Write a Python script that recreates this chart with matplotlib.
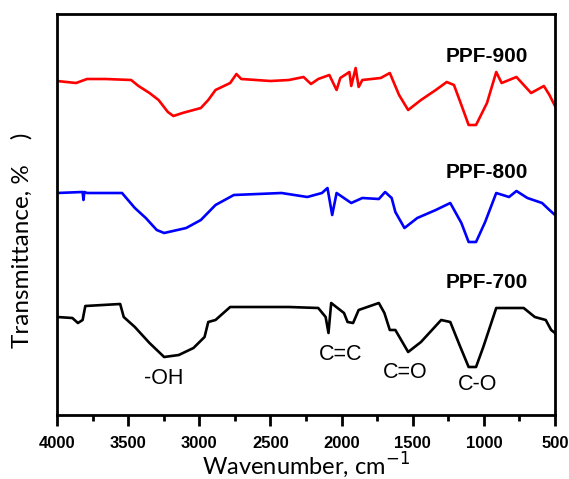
import numpy as np
import matplotlib.pyplot as plt

# wavenumber (cm-1) and transmittance (arbitrary offset units)
wn900 = [4000, 3866, 3789, 3660, 3479, 3427, 3350, 3286, 3221, 3182, 3118, 2989, 2937, 2886,
         2783, 2739, 2705, 2499, 2370, 2267, 2215, 2164, 2086, 2035, 2009, 1945, 1932, 1901,
         1880, 1854, 1725, 1661, 1596, 1532, 1442, 1338, 1261, 1210, 1158, 1107, 1055, 978,
         913, 875, 771, 668, 578, 539, 500]
t900 = [81, 83, 79, 79, 80, 86, 93, 100, 112, 116, 113, 108, 100, 90,
        83, 74, 79, 81, 80, 77, 84, 79, 75, 90, 78, 72, 86, 68,
        87, 80, 78, 73, 95, 110, 100, 90, 82, 85, 105, 125, 125, 103,
        72, 83, 77, 93, 86, 95, 106]

wn800 = [4000, 3820, 3814, 3808, 3789, 3543, 3453, 3376, 3299, 3247, 3092, 2989, 2886, 2757,
         2422, 2241, 2138, 2099, 2066, 2035, 1932, 1854, 1738, 1694, 1648, 1622, 1558, 1468,
         1338, 1236, 1158, 1107, 1055, 991, 913, 823, 771, 694, 591, 539, 500]
t800 = [193, 192, 200, 192, 193, 193, 208, 218, 230, 233, 228, 220, 205, 195,
        193, 197, 193, 188, 215, 193, 203, 198, 199, 192, 198, 212, 228, 218,
        210, 203, 223, 242, 242, 222, 193, 197, 191, 198, 203, 210, 215]

wn700 = [4000, 3892, 3853, 3820, 3801, 3556, 3531, 3453, 3350, 3247, 3144, 3041, 2963, 2937,
         2886, 2783, 2370, 2164, 2112, 2092, 2073, 1983, 1958, 1919, 1880, 1738, 1699, 1661,
         1622, 1532, 1442, 1300, 1236, 1171, 1107, 1055, 1004, 913, 720, 642, 565, 527, 500]
t700 = [317, 318, 323, 320, 306, 304, 317, 327, 343, 357, 355, 348, 337, 322,
        320, 307, 307, 308, 317, 333, 303, 313, 322, 323, 310, 303, 313, 330,
        330, 352, 342, 320, 322, 345, 367, 367, 347, 308, 308, 317, 320, 330, 333]

fig = plt.figure(figsize=(5.69, 4.79), dpi=100)
ax = fig.add_axes([57/569, 1 - 415/479, 498/569, 401/479])

ax.plot(wn900, -np.array(t900), color='#ff0000', lw=1.9)
ax.plot(wn800, -np.array(t800), color='#0000ff', lw=1.9)
ax.plot(wn700, -np.array(t700), color='black', lw=1.9)

ax.set_xlim(4000, 500)
ax.set_ylim(-415, -14)
ax.set_xticks(np.arange(4000, 499, -500))
ax.set_xticks(np.arange(3750, 500, -500), minor=True)
ax.set_yticks([])
ax.tick_params(axis='x', which='major', direction='out', length=8, width=2, pad=7)
ax.tick_params(axis='x', which='minor', direction='out', length=4, width=2)
for lab in ax.get_xticklabels():
    lab.set_fontfamily('Liberation Sans')
    lab.set_fontweight('bold')
    lab.set_fontsize(12)
for s in ax.spines.values():
    s.set_linewidth(2)

ax.set_xlabel('Wavenumber, cm$^{-1}$', fontfamily='Lato', fontsize=17, labelpad=0)
fig.text(22/569, 1 - 240/479, 'Transmittance, %    )', rotation=90, ha='center', va='center',
         fontfamily='Lato', fontsize=17.5)

for name, y in [('PPF-900', -57), ('PPF-800', -172), ('PPF-700', -283)]:
    ax.text(977, y, name, ha='center', va='center', fontfamily='Liberation Sans',
            fontweight='bold', fontsize=15)

for name, x, y in [('-OH', 3247, -378), ('C=C', 2009, -355), ('C=O', 1553, -372), ('C-O', 1042, -385)]:
    ax.text(x, y, name, ha='center', va='center', fontfamily='Liberation Sans', fontsize=15.5)

fig.savefig('out.png', dpi=100)
